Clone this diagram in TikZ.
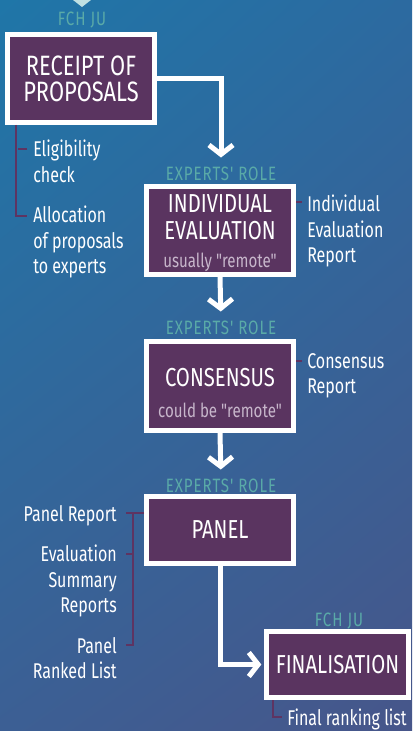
\documentclass[tikz,border=0pt]{standalone}
\usepackage{fontspec}
\setmainfont{Fira Sans}[FakeStretch=0.78,Ligatures=TeXOff]
\newfontfamily\notefont{Fira Sans}[FakeStretch=0.75,Ligatures=TeXOff]
\newfontfamily\rolefont{Fira Sans}[FakeStretch=0.78,LetterSpace=5,Ligatures=TeXOff]
\usetikzlibrary{arrows.meta,shadows,shadings}
\definecolor{bgtl}{HTML}{1F76A8}
\definecolor{bgtr}{HTML}{2C6AA0}
\definecolor{bgbl}{HTML}{3C5F94}
\definecolor{bgbr}{HTML}{47568A}
\definecolor{plum}{HTML}{5A3460}
\definecolor{plumline}{HTML}{5E3462}
\definecolor{rolecol}{HTML}{5AAAA8}
\definecolor{lilac}{HTML}{C7B6CB}
\definecolor{pale}{HTML}{BFE0E2}
\begin{document}
\begin{tikzpicture}[x=0.75pt,y=0.75pt,yscale=-1,xscale=1,
	stage/.style={draw=white,line width=3.75pt,fill=plum,text=white,align=center,inner sep=0pt,
		minimum width=110.25pt,minimum height=66pt,font=\fontsize{19.5}{20}\selectfont,
		drop shadow={opacity=0.25,shadow xshift=1.5pt,shadow yshift=-1.5pt}},
	role/.style={text=rolecol,inner sep=0pt,font=\rolefont\fontsize{14.5}{14.5}\selectfont},
	note/.style={text=white,inner sep=0pt,font=\notefont\fontsize{16}{19}\selectfont},
	flow/.style={draw=white,line width=3.75pt,-{Straight Barb[length=7pt,width=18pt]}},
	tick/.style={draw=plumline,line width=1.5pt}]
	%background
	\useasboundingbox (0,0) rectangle (412,731);
	\shade[upper left=bgtl,upper right=bgtr,lower left=bgbl,lower right=bgbr] (0,0) rectangle (412,731);
	\fill[pale] (73,0) -- (91,0) -- (82,7) -- cycle;
	
	%stages
	\node[role] (fch1) at (82,20) {FCH JU};
	\node[stage,font=\fontsize{21}{19.5}\selectfont] (box1) at (81,78.5) {RECEIPT OF\\PROPOSALS};
	
	\node[role] (role2) at (221,174) {EXPERTS' ROLE};
	\node[stage] (box2) at (220,230.5) {\rule{0pt}{17pt}INDIVIDUAL\\EVALUATION\\[1pt]{\fontsize{14.5}{14.5}\selectfont\color{lilac}usually "remote"}};
	
	\node[role] (role3) at (221,328) {EXPERTS' ROLE};
	\node[stage,minimum height=66.75pt] (box3) at (220,386) {\rule{0pt}{24pt}CONSENSUS\\[3pt]{\fontsize{14.5}{14.5}\selectfont\color{lilac}could be "remote"}};
	
	\node[role] (role4) at (221,486) {EXPERTS' ROLE};
	\node[stage,minimum height=50.25pt] (box4) at (220,530) {PANEL};
	
	\node[role] (fch5) at (339,621) {FCH JU};
	\node[stage,minimum width=106.5pt,minimum height=49.5pt] (box5) at (337.5,664.5) {FINALISATION};
	
	%flow arrows
	\draw[flow,shorten >=7pt] (box1.east) -| (role2.north);
	\draw[flow,shorten >=7pt] (box2.south) -- (role3.north);
	\draw[flow,shorten >=7pt] (box3.south) -- (role4.north);
	\draw[flow,shorten >=2pt] (box4.south) |- (box5.west);
	
	%notes
	\node[note,anchor=north west,align=left] (elig) at (33,140) {Eligibility\\check};
	\node[note,anchor=north west,align=left] (alloc) at (33,206) {Allocation\\of proposals\\to experts};
	\node[note,anchor=north west,align=left] (indrep) at (307,195) {Individual\\Evaluation\\Report};
	\node[note,anchor=north west,align=left] (consrep) at (307,353) {Consensus\\Report};
	\node[note,anchor=north east,align=right] (panelrep) at (117,505) {Panel Report};
	\node[note,anchor=north east,align=right] (esr) at (117,545) {Evaluation\\Summary\\Reports};
	\node[note,anchor=north east,align=right] (prl) at (117,637) {Panel\\Ranked List};
	\node[note,anchor=north west,align=left] (finlist) at (287,709) {Final ranking list};
	
	%note ticks
	\coordinate (e1) at (27,149);
	\coordinate (a1) at (27,216);
	\coordinate (ir1) at (302,202);
	\coordinate (cr1) at (302,361);
	\coordinate (pr1) at (126,513);
	\coordinate (pr2) at (126,554);
	\coordinate (pr3) at (126,645);
	\coordinate (fr1) at (282,717);
	\draw[tick] ([xshift=8.3pt]box1.south west) |- (a1);
	\draw[tick] (e1) -- ++(-9,0);
	\draw[tick] (box2.east |- ir1) -- (ir1);
	\draw[tick] (box3.east |- cr1) -- (cr1);
	\draw[tick] (box4.west |- pr1) -- (pr1);
	\draw[tick] ([xshift=5.25pt]pr1) |- (pr3);
	\draw[tick] (pr2) -- ++(7,0);
	\draw[tick] ([xshift=6.4pt]box5.south west) |- (fr1);
\end{tikzpicture}
\end{document}
